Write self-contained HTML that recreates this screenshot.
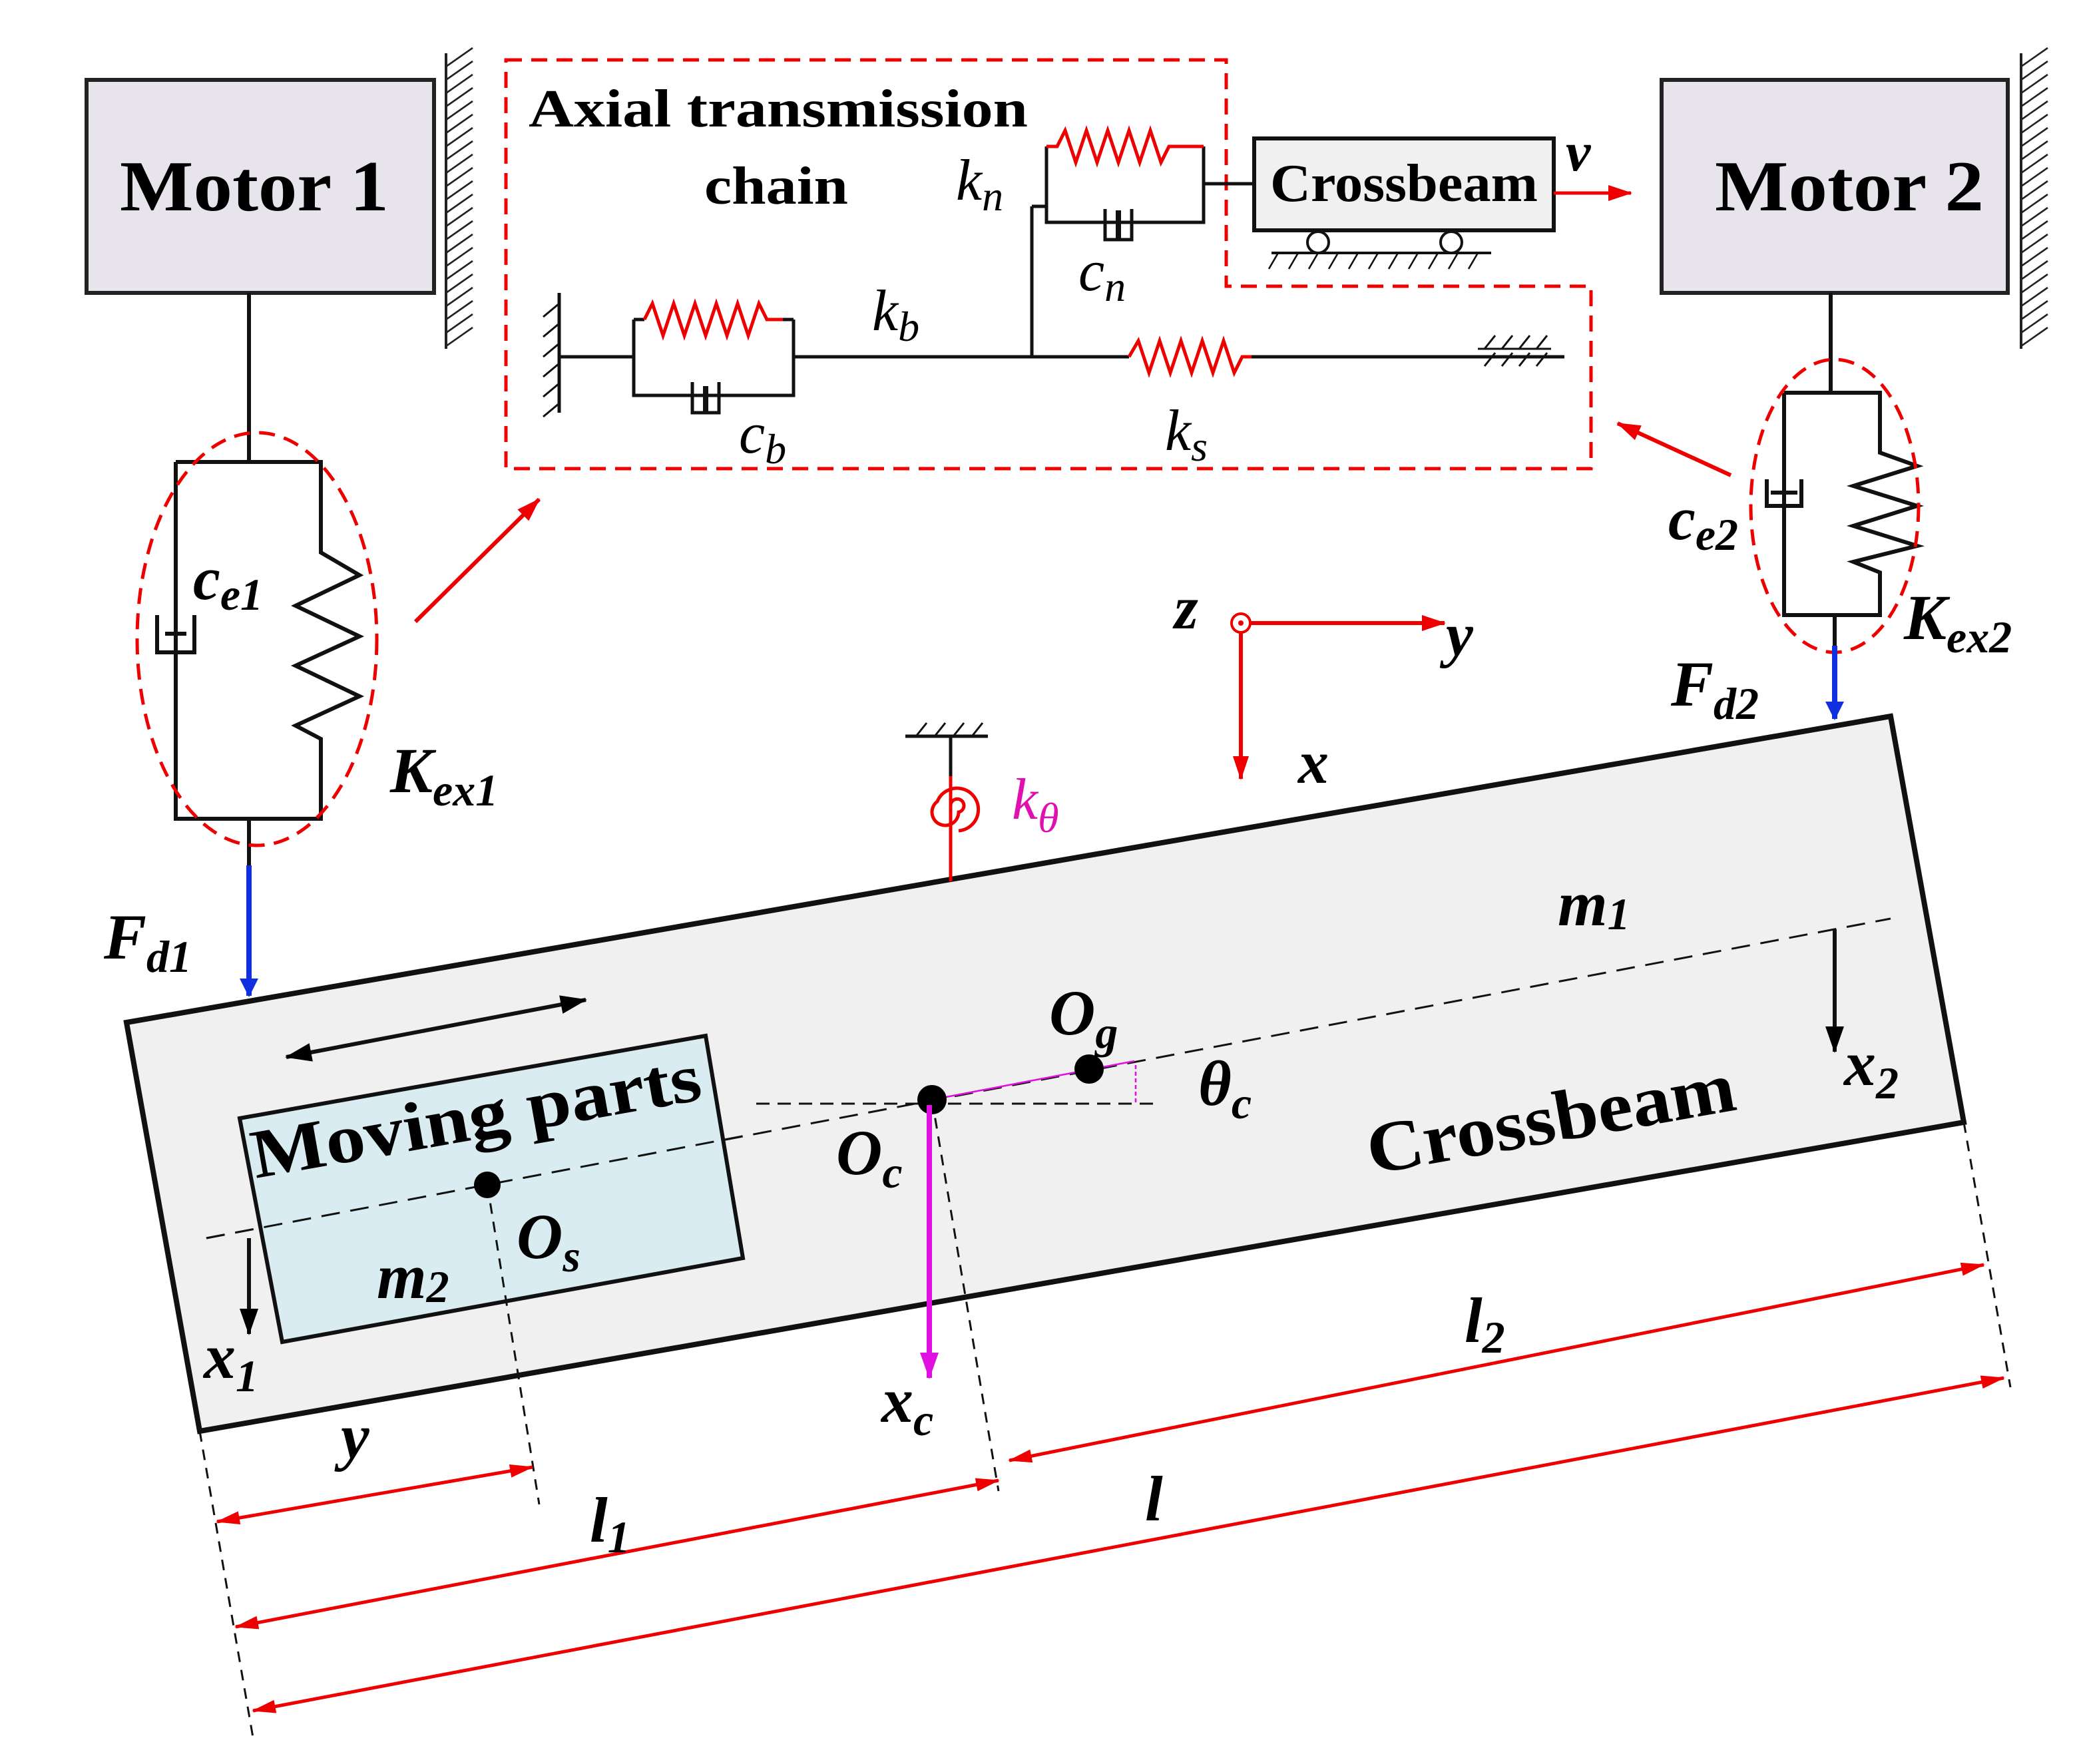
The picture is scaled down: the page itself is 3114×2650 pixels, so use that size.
<!DOCTYPE html>
<html><head><meta charset="utf-8"><style>
html,body{margin:0;padding:0;background:#fff}
svg{display:block}
text{font-family:"Liberation Serif",serif}
.b{font-weight:bold}
.i{font-style:italic}
</style></head><body>
<svg width="3114" height="2650" viewBox="0 0 1557 1325" xmlns="http://www.w3.org/2000/svg">
<defs>
<marker id="ar2" markerWidth="18" markerHeight="12" refX="17" refY="6" orient="auto" markerUnits="userSpaceOnUse"><path d="M0,0 L18,6 L0,12 z" fill="#e00"/></marker>
<marker id="ab" markerWidth="14" markerHeight="20" refX="13" refY="7" orient="auto" markerUnits="userSpaceOnUse"><path d="M0,0 L14,7 L0,14 z" fill="#1030e0"/></marker>
<marker id="ak" markerWidth="20" markerHeight="14" refX="19" refY="7" orient="auto" markerUnits="userSpaceOnUse"><path d="M0,0 L20,7 L0,14 z" fill="#000"/></marker>
<marker id="ak0" markerWidth="20" markerHeight="14" refX="1" refY="7" orient="auto" markerUnits="userSpaceOnUse"><path d="M20,0 L0,7 L20,14 z" fill="#000"/></marker>
<marker id="am" markerWidth="20" markerHeight="14" refX="19" refY="7" orient="auto" markerUnits="userSpaceOnUse"><path d="M0,0 L20,7 L0,14 z" fill="#e010e0"/></marker>
<marker id="ad" markerWidth="18" markerHeight="10" refX="17" refY="5" orient="auto" markerUnits="userSpaceOnUse"><path d="M0,0 L18,5 L0,10 z" fill="#e00"/></marker>
<marker id="ad0" markerWidth="18" markerHeight="10" refX="1" refY="5" orient="auto" markerUnits="userSpaceOnUse"><path d="M18,0 L0,5 L18,10 z" fill="#e00"/></marker>
</defs>

<rect x="65" y="60" width="261" height="160" fill="#e7e4ec" stroke="#222" stroke-width="3"/>
<text x="90" y="158" font-size="54" class="b" textLength="202" lengthAdjust="spacingAndGlyphs">Motor 1</text>
<rect x="1248" y="60" width="260" height="160" fill="#e7e4ec" stroke="#222" stroke-width="3"/>
<text x="1288" y="158" font-size="54" class="b" textLength="202" lengthAdjust="spacingAndGlyphs">Motor 2</text>
<g stroke="#222" stroke-width="2">
<line x1="335" y1="40" x2="335" y2="262"/>
<line x1="1518" y1="40" x2="1518" y2="262"/>
</g>
<g stroke="#222" stroke-width="1.3">
<path d="M335,50 l20,-14 M335,60 l20,-14 M335,70 l20,-14 M335,80 l20,-14 M335,90 l20,-14 M335,100 l20,-14 M335,110 l20,-14 M335,120 l20,-14 M335,130 l20,-14 M335,140 l20,-14 M335,150 l20,-14 M335,160 l20,-14 M335,170 l20,-14 M335,180 l20,-14 M335,190 l20,-14 M335,200 l20,-14 M335,210 l20,-14 M335,220 l20,-14 M335,230 l20,-14 M335,240 l20,-14 M335,250 l20,-14 M335,260 l20,-14"/>
<path d="M1518,50 l20,-14 M1518,60 l20,-14 M1518,70 l20,-14 M1518,80 l20,-14 M1518,90 l20,-14 M1518,100 l20,-14 M1518,110 l20,-14 M1518,120 l20,-14 M1518,130 l20,-14 M1518,140 l20,-14 M1518,150 l20,-14 M1518,160 l20,-14 M1518,170 l20,-14 M1518,180 l20,-14 M1518,190 l20,-14 M1518,200 l20,-14 M1518,210 l20,-14 M1518,220 l20,-14 M1518,230 l20,-14 M1518,240 l20,-14 M1518,250 l20,-14 M1518,260 l20,-14"/>
</g>

<g stroke="#111" stroke-width="3" fill="none">
<line x1="187" y1="220" x2="187" y2="347"/>
<path d="M132,347 H241 V415 L270,432 L222,455 L270,478 L222,500 L270,523 L222,545 L241,555 V615 H132 V347"/>
<line x1="187" y1="615" x2="187" y2="650"/>
<path d="M118,462 V490 H146 V462"/>
<line x1="124" y1="476" x2="140" y2="476"/>
</g>
<ellipse cx="193" cy="480" rx="90" ry="155" fill="none" stroke="#e00" stroke-width="2.5" stroke-dasharray="12,7"/>
<line x1="187" y1="650" x2="187" y2="748" stroke="#1030e0" stroke-width="4" marker-end="url(#ab)"/>
<text x="145" y="450" font-size="46" class="b i">c<tspan font-size="34" dy="8">e1</tspan></text>
<text x="293" y="595" font-size="48" class="b i">K<tspan font-size="34" dy="10">ex1</tspan></text>
<text x="78" y="720" font-size="48" class="b i">F<tspan font-size="34" dy="10">d1</tspan></text>
<line x1="312" y1="467" x2="405" y2="375" stroke="#e00" stroke-width="3" marker-end="url(#ar2)"/>

<g stroke="#111" stroke-width="3" fill="none">
<line x1="1375" y1="220" x2="1375" y2="295"/>
<path d="M1340,295 H1412 V340 L1440,350 L1392,365 L1440,380 L1392,395 L1440,410 L1392,422 L1412,430 V462 H1340 V295"/>
<path d="M1327,360 V380 H1353 V360"/>
<line x1="1330" y1="370" x2="1350" y2="370"/>
<line x1="1378" y1="462" x2="1378" y2="485"/>
</g>
<ellipse cx="1378" cy="380" rx="63" ry="110" fill="none" stroke="#e00" stroke-width="2.5" stroke-dasharray="12,7"/>
<line x1="1378" y1="485" x2="1378" y2="540" stroke="#1030e0" stroke-width="4" marker-end="url(#ab)"/>
<text x="1253" y="405" font-size="46" class="b i">c<tspan font-size="34" dy="8">e2</tspan></text>
<text x="1430" y="480" font-size="48" class="b i">K<tspan font-size="34" dy="10">ex2</tspan></text>
<text x="1255" y="530" font-size="48" class="b i">F<tspan font-size="34" dy="10">d2</tspan></text>
<line x1="1300" y1="357" x2="1215" y2="318" stroke="#e00" stroke-width="3" marker-end="url(#ar2)"/>

<path d="M380,45 H921 V215 H1195 V352 H380 Z" fill="none" stroke="#e00" stroke-width="2.5" stroke-dasharray="12,7"/>
<text x="397" y="95" font-size="40" class="b" textLength="375" lengthAdjust="spacingAndGlyphs">Axial transmission</text>
<text x="529" y="153" font-size="40" class="b" textLength="108" lengthAdjust="spacingAndGlyphs">chain</text>
<g stroke="#111" stroke-width="2.5" fill="none">
<line x1="420" y1="220" x2="420" y2="310"/>
<path d="M420,228 l-12,10 M420,243 l-12,10 M420,258 l-12,10 M420,273 l-12,10 M420,288 l-12,10 M420,303 l-12,10" stroke-width="1.5"/>
<line x1="420" y1="268" x2="476" y2="268"/>
<path d="M476,240 V297 H596 V240"/>
<path d="M476,240 H484 M588,240 H596"/>
<path d="M520,287 V310 H540 V287" />
<line x1="530" y1="290" x2="530" y2="310" stroke-width="4"/>
<line x1="596" y1="268" x2="848" y2="268"/>
<line x1="940" y1="268" x2="1175" y2="268"/>
<line x1="1110" y1="262" x2="1165" y2="262" stroke-width="1.5"/>
<path d="M1115,275 l8,-10 M1128,275 l8,-10 M1141,275 l8,-10 M1154,275 l8,-10 M1115,262 l8,-10 M1128,262 l8,-10 M1141,262 l8,-10 M1154,262 l8,-10" stroke-width="1.5"/>
<line x1="775" y1="268" x2="775" y2="155"/>
<line x1="775" y1="155" x2="786" y2="155"/>
<path d="M786,110 V167 H904 V110"/>
<line x1="904" y1="138" x2="942" y2="138"/>
<path d="M830,157 V180 H850 V157"/>
<line x1="840" y1="158" x2="840" y2="180" stroke-width="4"/>
</g>
<g stroke="#e00" stroke-width="2.5" fill="none">
<polyline points="484,240 490,228 498,252 506,228 514,252 522,228 530,252 538,228 546,252 554,228 562,252 570,228 576,240 588,240"/>
<polyline points="848,268 855,256 863,280 871,256 879,280 887,256 895,280 903,256 911,280 919,256 927,280 933,268 940,268"/>
<polyline points="786,110 794,110 800,98 808,122 816,98 824,122 832,98 840,122 848,98 856,122 864,98 872,122 878,110 904,110"/>
</g>
<rect x="942" y="104" width="225" height="69" fill="#f0f0f0" stroke="#111" stroke-width="3"/>
<text x="954" y="151" font-size="40" class="b" textLength="201" lengthAdjust="spacingAndGlyphs">Crossbeam</text>
<g stroke="#111" stroke-width="2" fill="#fff">
<circle cx="990" cy="182" r="8"/><circle cx="1090" cy="182" r="8"/>
<line x1="955" y1="190" x2="1120" y2="190"/>
<path d="M960,190 l-7,12 M975,190 l-7,12 M990,190 l-7,12 M1005,190 l-7,12 M1020,190 l-7,12 M1035,190 l-7,12 M1050,190 l-7,12 M1065,190 l-7,12 M1080,190 l-7,12 M1095,190 l-7,12 M1110,190 l-7,12" stroke-width="1.3"/>
</g>
<line x1="1167" y1="145" x2="1225" y2="145" stroke="#e00" stroke-width="2.5" marker-end="url(#ar2)"/>
<text x="1176" y="128" font-size="42" class="b i">v</text>
<text x="718" y="150" font-size="44" class="i">k<tspan font-size="32" dy="8">n</tspan></text>
<text x="810" y="218" font-size="44" class="i">c<tspan font-size="32" dy="8">n</tspan></text>
<text x="655" y="248" font-size="44" class="i">k<tspan font-size="32" dy="8">b</tspan></text>
<text x="555" y="340" font-size="44" class="i">c<tspan font-size="32" dy="8">b</tspan></text>
<text x="875" y="338" font-size="44" class="i">k<tspan font-size="32" dy="8">s</tspan></text>

<line x1="932" y1="468" x2="1085" y2="468" stroke="#e00" stroke-width="3" marker-end="url(#ar2)"/>
<line x1="932" y1="468" x2="932" y2="585" stroke="#e00" stroke-width="3" marker-end="url(#ar2)"/>
<circle cx="932" cy="468" r="7" fill="#fff" stroke="#e00" stroke-width="2"/>
<circle cx="932" cy="468" r="2" fill="#e00"/>
<text x="882" y="472" font-size="46" class="b i">z</text>
<text x="1086" y="492" font-size="46" class="b i">y</text>
<text x="975" y="588" font-size="46" class="b i">x</text>

<polygon points="95,768 1420,538 1475,843 150,1075" fill="#f0f0f0" stroke="#111" stroke-width="4"/>
<g stroke="#111" stroke-width="2.5" fill="none">
<line x1="680" y1="553" x2="742" y2="553"/>
<path d="M688,553 l8,-10 M702,553 l8,-10 M716,553 l8,-10 M730,553 l8,-10" stroke-width="1.5"/>
<line x1="714" y1="553" x2="714" y2="583"/>
</g>
<g stroke="#e00" stroke-width="2.5" fill="none">
<line x1="714" y1="583" x2="714" y2="662"/>
<path d="M714,605 a5,5 0 1 1 6,5 a10,10 0 1 1 -16,-8 a16,16 0 1 1 16,22"/>
</g>
<text x="760" y="615" font-size="44" class="i" fill="#e010b0">k<tspan font-size="32" dy="10">θ</tspan></text>

<line x1="155" y1="930" x2="1420" y2="690" stroke="#111" stroke-width="1.5" stroke-dasharray="14,8"/>

<polygon points="180,840 530,778 558,945 212,1008" fill="#d9ecf2" stroke="#111" stroke-width="3"/>
<line x1="155" y1="930" x2="560" y2="853" stroke="#111" stroke-width="1.5" stroke-dasharray="14,8"/>
<text transform="translate(192,885) rotate(-10)" font-size="52" class="b" textLength="342" lengthAdjust="spacingAndGlyphs">Moving parts</text>
<line x1="215" y1="794" x2="440" y2="751" stroke="#111" stroke-width="3" marker-end="url(#ak)" marker-start="url(#ak0)"/>
<line x1="366" y1="890" x2="405" y2="1130" stroke="#111" stroke-width="1.5" stroke-dasharray="8,6"/>
<circle cx="366" cy="890" r="10" fill="#000"/>
<text x="388" y="945" font-size="48" class="b i">O<tspan font-size="34" dy="10">s</tspan></text>
<text x="283" y="975" font-size="48" class="b i">m<tspan font-size="34" dy="3">2</tspan></text>

<line x1="568" y1="829" x2="872" y2="829" stroke="#111" stroke-width="1.5" stroke-dasharray="10,6"/>
<line x1="700" y1="826" x2="852" y2="797" stroke="#e010e0" stroke-width="1.3"/>
<line x1="853" y1="800" x2="853" y2="828" stroke="#e010e0" stroke-width="1.3" stroke-dasharray="3,2"/>
<line x1="700" y1="826" x2="750" y2="1120" stroke="#111" stroke-width="1.5" stroke-dasharray="8,6"/>
<circle cx="700" cy="826" r="11" fill="#000"/>
<circle cx="818" cy="803" r="11" fill="#000"/>
<text x="788" y="777" font-size="48" class="b i">O<tspan font-size="34" dy="10">g</tspan></text>
<text x="900" y="830" font-size="48" class="b i">θ<tspan font-size="34" dy="10">c</tspan></text>
<text x="628" y="882" font-size="48" class="b i">O<tspan font-size="34" dy="10">c</tspan></text>
<line x1="698" y1="830" x2="698" y2="1035" stroke="#e010e0" stroke-width="4" marker-end="url(#am)"/>
<text x="662" y="1068" font-size="48" class="b i">x<tspan font-size="34" dy="10">c</tspan></text>
<text x="1170" y="695" font-size="48" class="b i">m<tspan font-size="34" dy="3">1</tspan></text>
<text transform="translate(1030,882) rotate(-10)" font-size="54" class="b" textLength="280" lengthAdjust="spacingAndGlyphs">Crossbeam</text>
<line x1="1378" y1="698" x2="1378" y2="790" stroke="#111" stroke-width="3" marker-end="url(#ak)"/>
<text x="1385" y="815" font-size="48" class="b i">x<tspan font-size="34" dy="10">2</tspan></text>
<line x1="187" y1="930" x2="187" y2="1002" stroke="#111" stroke-width="3" marker-end="url(#ak)"/>
<text x="153" y="1035" font-size="48" class="b i">x<tspan font-size="34" dy="10">1</tspan></text>

<g stroke="#111" stroke-width="1.5" stroke-dasharray="8,6">
<line x1="150" y1="1075" x2="190" y2="1305"/>
<line x1="1475" y1="843" x2="1510" y2="1042"/>
</g>
<g stroke="#e00" stroke-width="2.5">
<line x1="163" y1="1143" x2="400" y2="1102" marker-start="url(#ad0)" marker-end="url(#ad)"/>
<line x1="177" y1="1222" x2="750" y2="1112" marker-start="url(#ad0)" marker-end="url(#ad)"/>
<line x1="758" y1="1097" x2="1490" y2="950" marker-start="url(#ad0)" marker-end="url(#ad)"/>
<line x1="190" y1="1285" x2="1505" y2="1035" marker-start="url(#ad0)" marker-end="url(#ad)"/>
</g>
<text x="256" y="1095" font-size="48" class="b i">y</text>
<text x="443" y="1158" font-size="48" class="b i">l<tspan font-size="34" dy="8">1</tspan></text>
<text x="1100" y="1008" font-size="48" class="b i">l<tspan font-size="34" dy="8">2</tspan></text>
<text x="860" y="1142" font-size="48" class="b i">l</text>
</svg>
</body></html>
